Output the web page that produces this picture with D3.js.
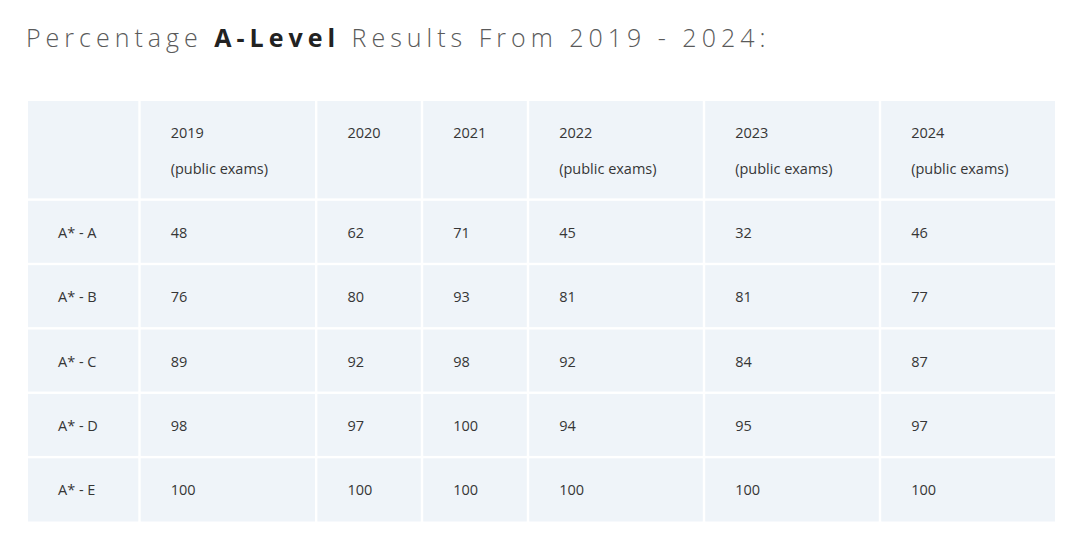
<!DOCTYPE html>
<html>
<head>
<meta charset="utf-8">
<script src="https://cdn.jsdelivr.net/npm/d3@7"></script>
<style>
  html, body { margin: 0; padding: 0; background: #ffffff; }
  svg { display: block; }
</style>
</head>
<body>
<svg id="chart" width="1080" height="544"></svg>
<script>
// ---- data ----
const years = ["2019", "2020", "2021", "2022", "2023", "2024"];
const yearNotes = ["(public exams)", "", "", "(public exams)", "(public exams)", "(public exams)"];
const grades = ["A* - A", "A* - B", "A* - C", "A* - D", "A* - E"];
const v2019 = [48, 76, 89, 98, 100];
const v2020 = [62, 80, 92, 97, 100];
const v2021 = [71, 93, 98, 100, 100];
const v2022 = [45, 81, 92, 94, 100];
const v2023 = [32, 81, 84, 95, 100];
const v2024 = [46, 77, 87, 97, 100];
const seriesByYear = [v2019, v2020, v2021, v2022, v2023, v2024];

// ---- layout ----
const colEdges = [28, 139.5, 316.2, 422, 528, 704, 880, 1055];
const gap = 2.4;
const headerTop = 101, headerBottom = 199.6, tableBottom = 521.5;
const fill = "#eff4f9";
const textColor = "#363636";
const font = "'Open Sans', sans-serif";

const svg = d3.select("#chart");

// Title
const title = svg.append("text")
  .attr("x", 26).attr("y", 47)
  .attr("font-family", font)
  .attr("font-size", 25)
  .attr("letter-spacing", 5)
  .attr("fill", "#5a5a5a");
title.append("tspan").attr("font-weight", 300).text("Percentage ");
title.append("tspan").attr("font-weight", 700).attr("fill", "#222").text("A-Level");
title.append("tspan").attr("font-weight", 300).text(" Results From 2019 - 2024:");

// columns: 0 = row labels, 1..6 = years
const colIdx = d3.range(colEdges.length - 1);
const rowScale = d3.scaleBand().domain(grades).range([headerBottom, tableBottom]);

function cellX0(i) { return colEdges[i] + (i === 0 ? 0 : gap / 2); }
function cellX1(i) { return colEdges[i + 1] - (i === colEdges.length - 2 ? 0 : gap / 2); }

const rows = [{ key: "header", y0: headerTop, y1: headerBottom - gap / 2 }]
  .concat(grades.map((g, r) => ({
    key: g,
    y0: rowScale(g) + gap / 2,
    y1: rowScale(g) + rowScale.bandwidth() - (r === grades.length - 1 ? 0 : gap / 2)
  })));

// cell backgrounds
const cells = [];
rows.forEach((row, r) => colIdx.forEach(c => cells.push({ r, c, row })));
svg.append("g").selectAll("rect").data(cells).join("rect")
  .attr("x", d => cellX0(d.c))
  .attr("y", d => d.row.y0)
  .attr("width", d => cellX1(d.c) - cellX0(d.c))
  .attr("height", d => d.row.y1 - d.row.y0)
  .attr("fill", fill);

const padL = 30;
const textG = svg.append("g")
  .attr("font-family", font)
  .attr("font-size", 14.5)
  .attr("fill", textColor);

// header text
years.forEach((y, i) => {
  const x = cellX0(i + 1) + padL;
  textG.append("text").attr("x", x).attr("y", 132)
    .attr("dominant-baseline", "central").text(y);
  if (yearNotes[i]) {
    textG.append("text").attr("x", x).attr("y", 168)
      .attr("dominant-baseline", "central").text(yearNotes[i]);
  }
});

// body
grades.forEach((g, r) => {
  const cy = rowScale(g) + rowScale.bandwidth() / 2 + 0.5;
  textG.append("text").attr("x", cellX0(0) + padL).attr("y", cy)
    .attr("dominant-baseline", "central").text(g);
  seriesByYear.forEach((vals, i) => {
    textG.append("text").attr("x", cellX0(i + 1) + padL).attr("y", cy)
      .attr("dominant-baseline", "central").text(vals[r]);
  });
});
</script>
</body>
</html>
